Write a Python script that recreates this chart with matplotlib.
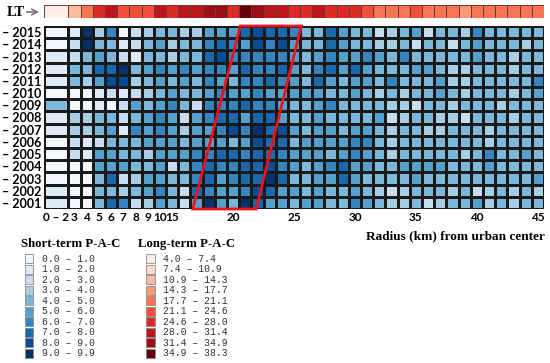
import numpy as np
import matplotlib
matplotlib.use("Agg")
import matplotlib.pyplot as plt
from matplotlib.colors import ListedColormap, BoundaryNorm
from matplotlib.patches import Polygon, Rectangle

# ---- data (legend class index 0..9) ----
years = list(range(2015, 2000, -1))          # top row first
tick_cols = [0, 1, 2, 3, 4, 5, 6, 7, 8, 9, 14, 19, 24, 29, 34, 39]
tick_labels = ["0 – 2", "3", "4", "5", "6", "7", "8", "9", "10", "15",
               "20", "25", "30", "35", "40", "45"]

# long-term P-A-C class per ring (top strip)
lt_class = [0, 2, 4, 6, 7, 5, 5, 5, 7, 6, 7, 7, 8, 8, 6, 9, 8, 7, 7, 6,
            6, 7, 6, 6, 6, 5, 4, 4, 4, 5, 4, 4, 4, 3, 4, 4, 4, 4, 4, 4]

# short-term P-A-C class per year (rows 2015 -> 2001), 40 rings each
st_class = [
    [0,1,9,3,6,0,2,3,4,4,3,3,5,5,5,7,8,7, 7,6,4,4,7,5,4,4,2,3,4,5,2,4,4,3,6,4,4,4,4,4],
    [0,2,9,4,4,1,2,4,5,3,4,4,6,7,6,5,8,6, 8,5,4,4,7,5,4,4,3,3,4,2,4,4,2,4,5,4,4,4,3,4],
    [1,2,4,5,4,2,1,4,4,3,4,4,7,8,6,6,6,6, 6,5,4,5,6,5,5,6,5,4,6,4,4,4,4,4,5,4,4,3,4,4],
    [1,4,4,7,7,9,4,5,6,5,6,5,6,6,5,7,6,6, 7,5,4,6,7,5,7,5,4,4,4,5,5,4,3,3,4,4,4,3,4,4],
    [1,4,3,5,8,8,3,4,5,4,5,4,6,5,4,6,6,7, 6,5,4,7,5,4,5,5,4,6,4,4,4,5,3,3,4,4,4,4,4,6],
    [0,0,0,1,2,1,2,3,4,5,4,4,5,6,5,5,6,5, 5,5,5,5,4,4,5,4,3,4,3,4,4,5,4,3,4,4,4,3,4,5],
    [4,0,0,1,0,2,5,4,5,6,4,2,6,6,6,7,6,6, 5,4,4,5,6,4,4,4,4,3,3,2,4,4,3,4,4,4,3,4,4,4],
    [1,3,3,4,4,2,4,5,6,5,2,5,6,7,7,5,7,7, 5,4,4,5,4,4,4,4,5,2,3,4,4,3,3,2,4,4,4,3,4,4],
    [1,3,3,4,5,1,6,5,6,5,3,5,5,6,8,6,9,7, 8,5,4,5,5,4,5,5,4,3,4,4,3,3,4,4,4,3,4,4,4,4],
    [0,2,1,2,4,4,4,5,5,5,4,5,5,5,4,5,8,7, 7,4,5,5,5,5,6,6,4,3,4,4,4,4,4,4,4,3,4,4,4,4],
    [0,2,1,5,5,4,4,3,5,5,5,6,6,7,7,6,7,7, 6,5,5,5,4,5,6,5,4,3,4,4,4,4,4,3,4,6,4,4,5,4],
    [0,0,0,5,5,5,4,4,5,2,4,6,7,6,6,7,7,8, 6,5,4,5,6,7,5,5,4,4,5,5,5,5,4,4,4,5,4,4,4,4],
    [0,0,0,4,7,2,3,5,5,4,4,6,7,5,6,7,7,9, 7,4,4,5,5,7,5,4,4,4,4,5,4,4,4,4,4,4,4,4,4,5],
    [1,0,0,4,4,3,4,5,6,4,2,7,6,5,5,6,8,7, 5,5,4,5,4,4,5,4,3,2,3,4,4,4,3,4,2,3,4,3,4,3],
    [1,0,0,4,7,6,2,3,5,4,2,5,9,5,4,9,7,5, 5,4,5,5,4,4,6,5,4,3,3,4,2,3,4,4,5,3,4,3,4,4],
]

st_bins = ["0.0 – 1.0", "1.0 – 2.0", "2.0 – 3.0", "3.0 – 4.0", "4.0 – 5.0",
           "5.0 – 6.0", "6.0 – 7.0", "7.0 – 8.0", "8.0 – 9.0", "9.0 – 9.9"]
lt_bins = ["4.0 – 7.4", "7.4 – 10.9", "10.9 – 14.3", "14.3 – 17.7", "17.7 – 21.1",
           "21.1 – 24.6", "24.6 – 28.0", "28.0 – 31.4", "31.4 – 34.9", "34.9 – 38.3"]

# ---- colours ----
blues = ListedColormap(plt.cm.Blues(np.linspace(0.02, 1.0, 10)))
reds = ListedColormap(plt.cm.Reds(np.linspace(0.04, 1.0, 10)))
norm = BoundaryNorm(np.arange(11) - 0.5, 10)

# first ring (0-2 km) is twice as wide as the others
xedges = np.concatenate([[0], np.arange(2, 42)])
st = np.array(st_class)[::-1]               # bottom row = 2001

fig = plt.figure(figsize=(5.5, 3.63), dpi=100)
W, H = 550.0, 363.0
serif_b = dict(family="Liberation Serif", weight="bold")
sans_b = dict(family="Lato", weight="bold")

# main grid
ax = fig.add_axes([44 / W, 1 - 209 / H, 500 / W, 183 / H])
ax.pcolormesh(xedges, np.arange(16), st, cmap=blues, norm=norm,
              edgecolors="#1a1a1a", linewidth=0.8)
ax.set_xlim(0, 41)
ax.set_ylim(0, 15)
for s in ax.spines.values():
    s.set_visible(False)

centers = [(xedges[k] + xedges[k + 1]) / 2 for k in range(40)]
ax.set_xticks([centers[k] for k in tick_cols])
ax.set_xticklabels(tick_labels, fontsize=8.5, **sans_b)
ax.set_yticks(np.arange(15) + 0.5)
ax.set_yticklabels(["– %d" % y for y in years[::-1]], fontsize=9, **sans_b)
ax.tick_params(length=0, pad=2)
xl = ax.get_xticklabels()
xl[0].set_x(0.8)
xl[8].set_x(centers[8] - 0.15)
xl[9].set_x(centers[9] + 0.2)

# red parallelogram
ax.add_patch(Polygon([(12.2, 0), (17.4, 0), (21.1, 15), (16.1, 15)],
                     closed=True, fill=False, edgecolor="#e8141c",
                     linewidth=2, clip_on=False, zorder=5))

# long-term strip
ax2 = fig.add_axes([44 / W, 1 - 18 / H, 500 / W, 13 / H])
ax2.pcolormesh(xedges, [0, 1], np.array([lt_class]), cmap=reds, norm=norm,
               edgecolors="#6b3a3a", linewidth=0.6)
ax2.set_xlim(0, 41)
ax2.set_ylim(0, 1)
ax2.axis("off")

# overlay in pixel coordinates for labels and legends
ov = fig.add_axes([0, 0, 1, 1], facecolor="none")
ov.set_xlim(0, W)
ov.set_ylim(H, 0)
ov.axis("off")

ov.text(7, 12, "LT", fontsize=10.5, va="center", ha="left", **serif_b)
ov.annotate("", xy=(42, 12), xytext=(24, 12),
            arrowprops=dict(arrowstyle="->", color="#777777", lw=1.2))
ov.text(545, 236, "Radius (km) from urban center", fontsize=9.5,
        ha="right", va="center", **serif_b)

ov.text(21, 244, "Short-term P-A-C", fontsize=9.2, ha="left", va="center", **serif_b)
ov.text(138, 244, "Long-term P-A-C", fontsize=9.2, ha="left", va="center", **serif_b)

for i in range(10):
    yc = 258.8 + 10.5 * i
    ov.add_patch(Rectangle((25, yc - 4.5), 8, 9, facecolor=blues(i),
                           edgecolor="#8a8a8a", linewidth=0.6))
    ov.text(42, yc, st_bins[i], fontsize=7, ha="left", va="center",
            family="Liberation Mono", color="#333333")
    ov.add_patch(Rectangle((146, yc - 4.5), 9, 9, facecolor=reds(i),
                           edgecolor="#8a8a8a", linewidth=0.6))
    ov.text(163, yc, lt_bins[i], fontsize=7, ha="left", va="center",
            family="Liberation Mono", color="#333333")

fig.savefig("out.png", dpi=100)
